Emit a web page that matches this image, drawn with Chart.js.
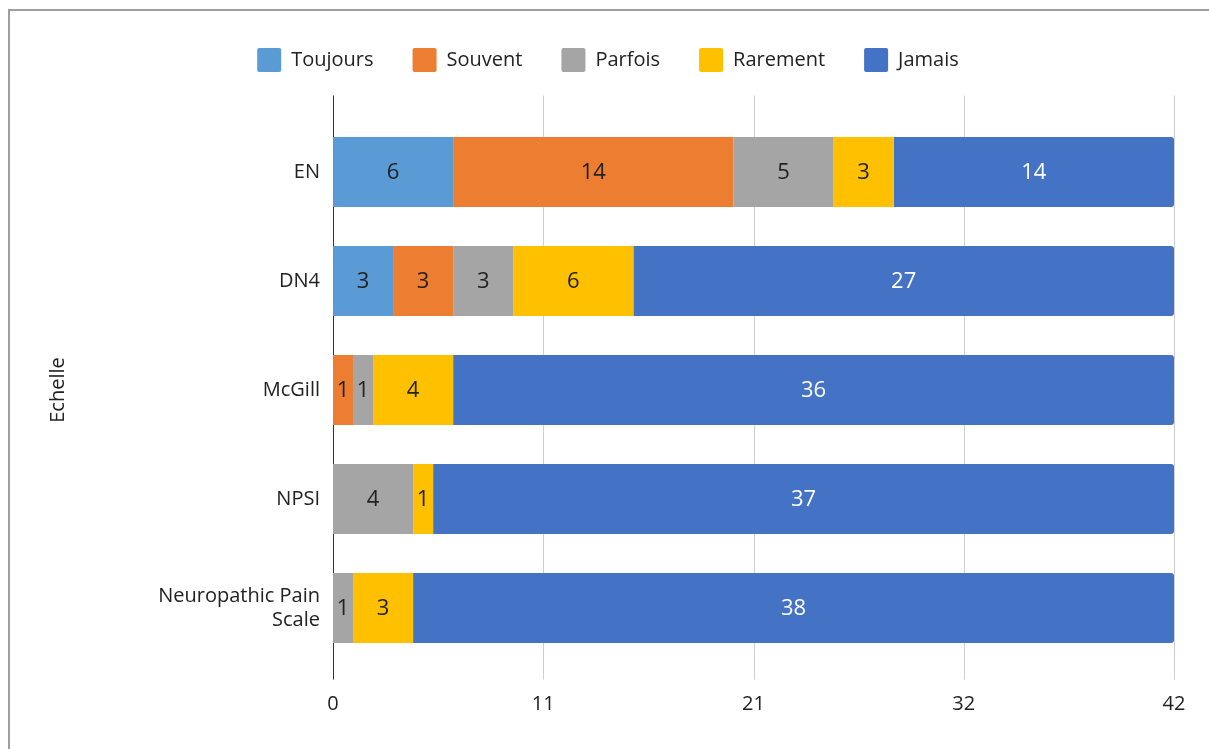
<!DOCTYPE html>
<html>
<head>
<meta charset="utf-8">
<script src="https://cdn.jsdelivr.net/npm/chart.js@4.4.0/dist/chart.umd.min.js"></script>
<style>
  html, body { margin: 0; padding: 0; background: #fff; overflow: hidden; }
  body { width: 1209px; height: 749px; position: relative; }
  .frame { position: absolute; left: 8px; top: 9px; width: 1300px; height: 900px; border: 2px solid #9e9e9e; box-sizing: border-box; }
  .wrap { position: absolute; left: 0; top: 0; width: 1209px; height: 749px; }
</style>
</head>
<body>
<div class="frame"></div>
<div class="wrap"><canvas id="chart"></canvas></div>
<script>
// scales (categories) and answer counts
const echelles = ['EN', 'DN4', 'McGill', 'NPSI', ['Neuropathic Pain', 'Scale']];
const toujours = [6, 3, 0, 0, 0];
const souvent = [14, 3, 1, 0, 0];
const parfois = [5, 3, 1, 4, 1];
const rarement = [3, 6, 4, 1, 3];
const jamais = [14, 27, 36, 37, 38];
const xTickLabels = ['0', '11', '21', '32', '42'];

Chart.defaults.font.family = '"Open Sans", sans-serif';
Chart.defaults.font.size = 20;
Chart.defaults.color = '#222';

// more room between legend and plot
const legendGap = {
  id: 'legendGap',
  beforeInit(chart) {
    const fit = chart.legend.fit;
    chart.legend.fit = function () {
      fit.bind(chart.legend)();
      this.height += 35.5;
    };
  }
};

// vertical grid lines reaching a bit past the bars
const gridLines = {
  id: 'gridLines',
  beforeDatasetsDraw(chart) {
    const { ctx, chartArea } = chart;
    const xs = chart.scales.x;
    const top = chartArea.top - 22;
    const bottom = chartArea.bottom + 17;
    ctx.save();
    ctx.lineWidth = 1;
    xs.ticks.forEach((t, i) => {
      const px = Math.round(xs.getPixelForValue(t.value)) + 0.5;
      ctx.strokeStyle = i === 0 ? '#333' : '#d0d0d0';
      ctx.beginPath();
      ctx.moveTo(px, top);
      ctx.lineTo(px, bottom);
      ctx.stroke();
    });
    ctx.restore();
  }
};

// value inside each segment
const barValues = {
  id: 'barValues',
  afterDatasetsDraw(chart) {
    const ctx = chart.ctx;
    ctx.save();
    ctx.font = '22px "Open Sans", sans-serif';
    ctx.textAlign = 'center';
    ctx.textBaseline = 'middle';
    chart.data.datasets.forEach((ds, di) => {
      const meta = chart.getDatasetMeta(di);
      meta.data.forEach((bar, i) => {
        const v = ds.data[i];
        if (!v) return;
        const p = bar.getCenterPoint();
        ctx.fillStyle = ds.valueColor;
        ctx.fillText(String(v), p.x, p.y + 1);
      });
    });
    ctx.restore();
  }
};

new Chart(document.getElementById('chart'), {
  type: 'bar',
  data: {
    labels: echelles,
    datasets: [
      { label: 'Toujours', data: toujours, backgroundColor: '#5b9bd5', valueColor: '#222' },
      { label: 'Souvent', data: souvent, backgroundColor: '#ed7d31', valueColor: '#222' },
      { label: 'Parfois', data: parfois, backgroundColor: '#a5a5a5', valueColor: '#222' },
      { label: 'Rarement', data: rarement, backgroundColor: '#ffc000', valueColor: '#222' },
      { label: 'Jamais', data: jamais, backgroundColor: '#4472c4', valueColor: '#fff', borderRadius: 3 }
    ]
  },
  options: {
    indexAxis: 'y',
    responsive: true,
    maintainAspectRatio: false,
    animation: false,
    categoryPercentage: 0.8,
    barPercentage: 0.8,
    layout: { padding: { top: 9, left: 42, right: 35, bottom: 2.5 } },
    plugins: {
      legend: {
        position: 'top',
        labels: { boxWidth: 24, boxHeight: 24, padding: 39, useBorderRadius: true, borderRadius: 2 }
      },
      tooltip: { enabled: false }
    },
    scales: {
      x: {
        stacked: true,
        min: 0,
        max: 42,
        grid: { display: false, drawTicks: false },
        border: { display: false },
        ticks: { stepSize: 10.5, padding: 30, callback: (v, i) => xTickLabels[i] },
        afterFit(scale) { scale.paddingRight = 35; }
      },
      y: {
        stacked: true,
        grid: { display: false, drawTicks: false },
        border: { display: false },
        ticks: { padding: 13 },
        title: { display: true, text: 'Echelle', padding: { top: 4 } },
        afterFit(scale) { scale.width = 291; }
      }
    }
  },
  plugins: [legendGap, gridLines, barValues]
});
</script>
</body>
</html>
